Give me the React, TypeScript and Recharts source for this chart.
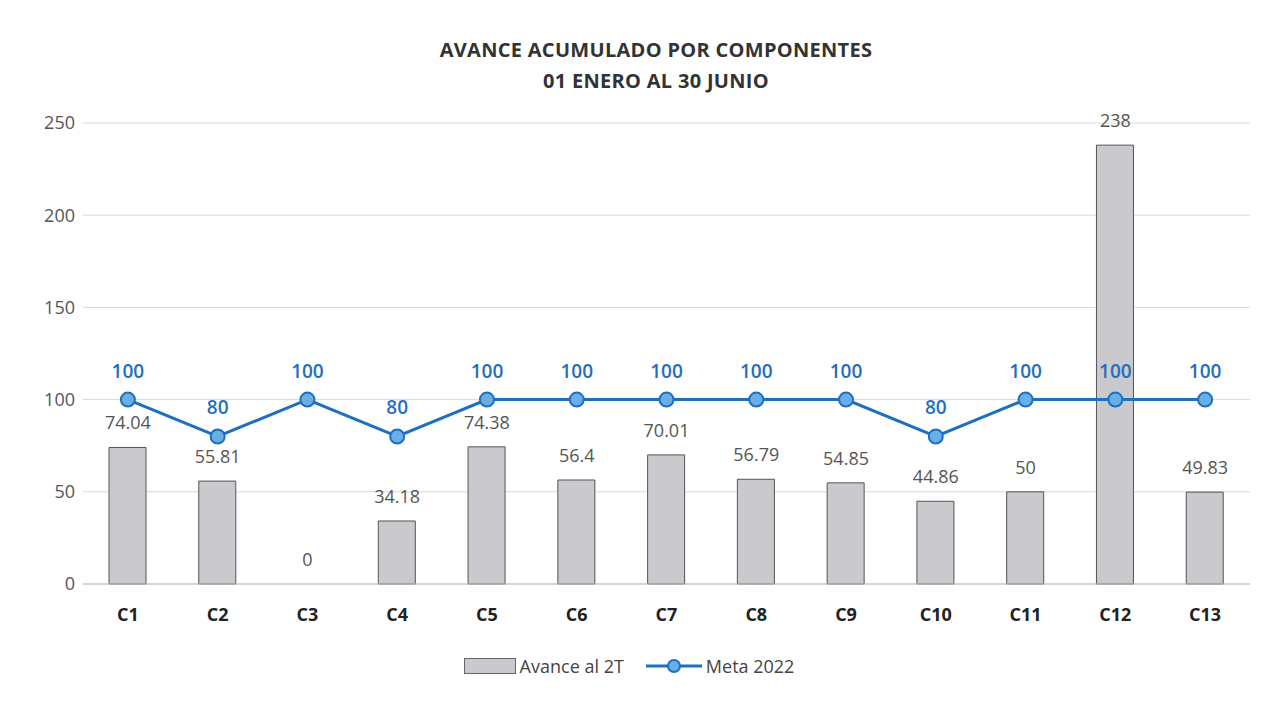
import React from "react";
import { ComposedChart, Bar, Line, XAxis, YAxis, CartesianGrid, LabelList, Legend } from "recharts";

const categories = ["C1", "C2", "C3", "C4", "C5", "C6", "C7", "C8", "C9", "C10", "C11", "C12", "C13"];
const avance = [74.04, 55.81, 0, 34.18, 74.38, 56.4, 70.01, 56.79, 54.85, 44.86, 50, 238, 49.83];
const meta = [100, 80, 100, 80, 100, 100, 100, 100, 100, 80, 100, 100, 100];
const yTicks = [0, 50, 100, 150, 200, 250];

const data = categories.map((c, i) => ({ name: c, avance: avance[i], meta: meta[i] }));

const FONT = "'Open Sans', 'Noto Sans', sans-serif";
const LINE = "#1f6fc0";

function LegendBox() {
  return (
    <div style={{ display: "flex", justifyContent: "center", alignItems: "center", gap: 22, fontFamily: FONT, fontSize: 18, color: "#444" }}>
      <span style={{ display: "flex", alignItems: "center", gap: 4 }}>
        <span style={{ width: 50, height: 14, background: "#c9c9ce", border: "1px solid #666", display: "inline-block" }} />
        Avance al 2T
      </span>
      <span style={{ display: "flex", alignItems: "center", gap: 4 }}>
        <svg width={56} height={16}>
          <line x1={0} y1={8} x2={56} y2={8} stroke={LINE} strokeWidth={3} />
          <circle cx={28} cy={8} r={6} fill="#6aaee6" stroke={LINE} strokeWidth={2} />
        </svg>
        Meta 2022
      </span>
    </div>
  );
}

// bar value label, drawn from an invisible line so the zero bar gets one too
function BarValue(props: any) {
  const { x, y, value } = props;
  return (
    <text x={Number(x)} y={Number(y) - 18} textAnchor="middle" fill="#555" fontSize={18} fontFamily={FONT}>
      {String(value)}
    </text>
  );
}

export default function App() {
  return (
    <div style={{ position: "relative", width: 1264, height: 690, background: "#fff", fontFamily: FONT }}>
      <div style={{ position: "absolute", top: 26, left: 0, width: 1296, textAlign: "center", fontWeight: 700, fontSize: 20, lineHeight: "31px", color: "#333", letterSpacing: 0.3 }}>
        AVANCE ACUMULADO POR COMPONENTES
        <br />
        01 ENERO AL 30 JUNIO
      </div>
      <ComposedChart width={1264} height={690} data={data} margin={{ top: 115, right: 22, bottom: 0, left: 0 }}>
        <CartesianGrid vertical={false} stroke="#d9d9d9" />
        <XAxis
          dataKey="name"
          axisLine={{ stroke: "#bfbfbf" }}
          tickLine={false}
          tick={{ fill: "#222", fontSize: 18, fontWeight: 700, fontFamily: FONT }}
          tickMargin={18}
          height={70}
        />
        <YAxis
          domain={[0, 250]}
          ticks={yTicks}
          axisLine={false}
          tickLine={false}
          width={75}
          tick={{ fill: "#555", fontSize: 18, fontFamily: FONT }}
        />
        <Legend verticalAlign="bottom" height={44} content={() => <LegendBox />} />
        <Bar dataKey="avance" fill="#c9c9ce" stroke="#555" strokeWidth={1} barSize={37} isAnimationActive={false} />
        <Line dataKey="avance" stroke="none" dot={false} activeDot={false} legendType="none" isAnimationActive={false}>
          <LabelList dataKey="avance" content={BarValue} />
        </Line>
        <Line
          dataKey="meta"
          stroke={LINE}
          strokeWidth={3}
          dot={{ r: 7, fill: "#6aaee6", stroke: LINE, strokeWidth: 2 }}
          isAnimationActive={false}
        >
          <LabelList dataKey="meta" position="top" offset={22} fill="#1f6fc0" fontSize={19} fontWeight={600} fontFamily={FONT} />
        </Line>
      </ComposedChart>
    </div>
  );
}
